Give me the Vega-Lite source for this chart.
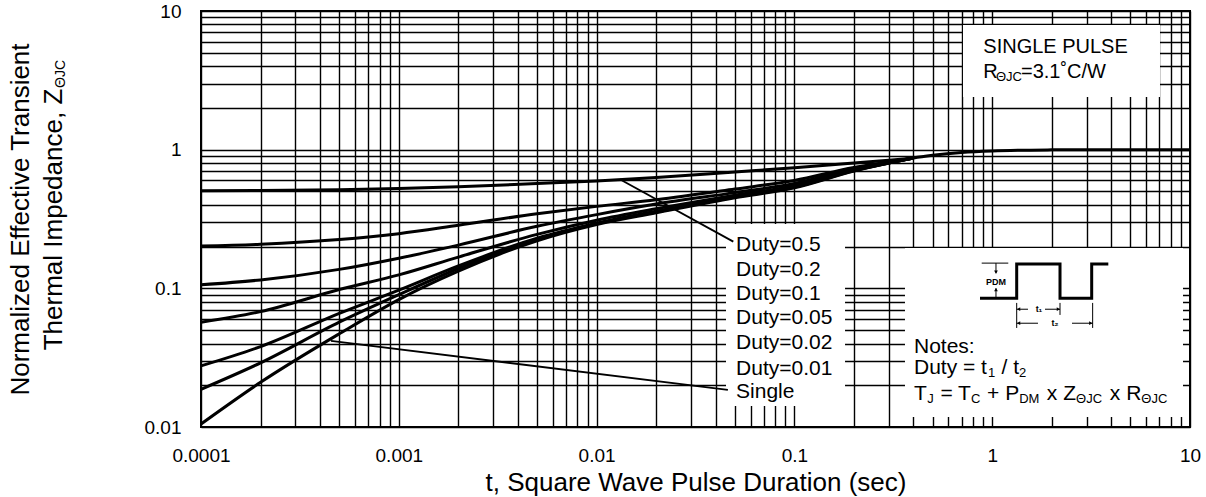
{
  "$schema": "https://vega.github.io/schema/vega-lite/v6.json",
  "width": 989,
  "height": 416,
  "autosize": {"type": "none"},
  "padding": {"left": 201, "top": 11, "right": 16, "bottom": 70},
  "background": "white",
  "config": {
    "font": "Liberation Sans",
    "view": {"stroke": "#000", "strokeWidth": 2},
    "axis": {"grid": true, "gridColor": "#000", "gridOpacity": 1, "gridWidth": 1.4, "ticks": false, "tickSize": 0, "domain": false, "labelFontSize": 19, "labelColor": "#000", "labelFont": "Liberation Sans", "titleFont": "Liberation Sans", "titleFontWeight": "normal", "titleColor": "#000", "labelOverlap": false, "labelFlush": false, "labelBound": false},
    "text": {"font": "Liberation Sans", "color": "#000"}
  },
  "datasets": {
    "curves": [
      {"series": "D0.5", "t": 0.0001, "z": 0.505}, {"series": "D0.5", "t": 0.0002, "z": 0.508}, {"series": "D0.5", "t": 0.0005, "z": 0.515}, {"series": "D0.5", "t": 0.001, "z": 0.525}, {"series": "D0.5", "t": 0.002, "z": 0.54}, {"series": "D0.5", "t": 0.005, "z": 0.57}, {"series": "D0.5", "t": 0.01, "z": 0.595}, {"series": "D0.5", "t": 0.02, "z": 0.63}, {"series": "D0.5", "t": 0.05, "z": 0.69}, {"series": "D0.5", "t": 0.1, "z": 0.74}, {"series": "D0.5", "t": 0.2, "z": 0.80}, {"series": "D0.5", "t": 0.3, "z": 0.84}, {"series": "D0.5", "t": 0.4, "z": 0.87},
      {"series": "D0.2", "t": 0.0001, "z": 0.202}, {"series": "D0.2", "t": 0.0002, "z": 0.208}, {"series": "D0.2", "t": 0.0005, "z": 0.225}, {"series": "D0.2", "t": 0.001, "z": 0.248}, {"series": "D0.2", "t": 0.002, "z": 0.285}, {"series": "D0.2", "t": 0.005, "z": 0.345}, {"series": "D0.2", "t": 0.01, "z": 0.39}, {"series": "D0.2", "t": 0.02, "z": 0.435}, {"series": "D0.2", "t": 0.05, "z": 0.52}, {"series": "D0.2", "t": 0.1, "z": 0.60}, {"series": "D0.2", "t": 0.2, "z": 0.745}, {"series": "D0.2", "t": 0.3, "z": 0.815}, {"series": "D0.2", "t": 0.4, "z": 0.87},
      {"series": "D0.1", "t": 0.0001, "z": 0.106}, {"series": "D0.1", "t": 0.0002, "z": 0.115}, {"series": "D0.1", "t": 0.0005, "z": 0.137}, {"series": "D0.1", "t": 0.001, "z": 0.165}, {"series": "D0.1", "t": 0.002, "z": 0.205}, {"series": "D0.1", "t": 0.005, "z": 0.28}, {"series": "D0.1", "t": 0.01, "z": 0.34}, {"series": "D0.1", "t": 0.02, "z": 0.405}, {"series": "D0.1", "t": 0.05, "z": 0.49}, {"series": "D0.1", "t": 0.1, "z": 0.57}, {"series": "D0.1", "t": 0.2, "z": 0.73}, {"series": "D0.1", "t": 0.3, "z": 0.81}, {"series": "D0.1", "t": 0.4, "z": 0.87},
      {"series": "D0.05", "t": 0.0001, "z": 0.057}, {"series": "D0.05", "t": 0.0002, "z": 0.068}, {"series": "D0.05", "t": 0.0005, "z": 0.098}, {"series": "D0.05", "t": 0.001, "z": 0.125}, {"series": "D0.05", "t": 0.002, "z": 0.168}, {"series": "D0.05", "t": 0.005, "z": 0.245}, {"series": "D0.05", "t": 0.01, "z": 0.31}, {"series": "D0.05", "t": 0.02, "z": 0.375}, {"series": "D0.05", "t": 0.05, "z": 0.47}, {"series": "D0.05", "t": 0.1, "z": 0.55}, {"series": "D0.05", "t": 0.2, "z": 0.72}, {"series": "D0.05", "t": 0.3, "z": 0.805}, {"series": "D0.05", "t": 0.4, "z": 0.87},
      {"series": "D0.02", "t": 0.0001, "z": 0.0276}, {"series": "D0.02", "t": 0.0002, "z": 0.038}, {"series": "D0.02", "t": 0.0005, "z": 0.066}, {"series": "D0.02", "t": 0.001, "z": 0.097}, {"series": "D0.02", "t": 0.002, "z": 0.145}, {"series": "D0.02", "t": 0.005, "z": 0.23}, {"series": "D0.02", "t": 0.01, "z": 0.295}, {"series": "D0.02", "t": 0.02, "z": 0.36}, {"series": "D0.02", "t": 0.05, "z": 0.46}, {"series": "D0.02", "t": 0.1, "z": 0.54}, {"series": "D0.02", "t": 0.2, "z": 0.71}, {"series": "D0.02", "t": 0.3, "z": 0.80}, {"series": "D0.02", "t": 0.4, "z": 0.87},
      {"series": "D0.01", "t": 0.0001, "z": 0.0187}, {"series": "D0.01", "t": 0.0002, "z": 0.029}, {"series": "D0.01", "t": 0.0005, "z": 0.057}, {"series": "D0.01", "t": 0.001, "z": 0.09}, {"series": "D0.01", "t": 0.002, "z": 0.139}, {"series": "D0.01", "t": 0.005, "z": 0.225}, {"series": "D0.01", "t": 0.01, "z": 0.292}, {"series": "D0.01", "t": 0.02, "z": 0.355}, {"series": "D0.01", "t": 0.05, "z": 0.455}, {"series": "D0.01", "t": 0.1, "z": 0.535}, {"series": "D0.01", "t": 0.2, "z": 0.705}, {"series": "D0.01", "t": 0.3, "z": 0.80}, {"series": "D0.01", "t": 0.4, "z": 0.87},
      {"series": "Single", "t": 0.0001, "z": 0.0105}, {"series": "Single", "t": 0.0002, "z": 0.021}, {"series": "Single", "t": 0.0005, "z": 0.047}, {"series": "Single", "t": 0.001, "z": 0.083}, {"series": "Single", "t": 0.002, "z": 0.133}, {"series": "Single", "t": 0.005, "z": 0.22}, {"series": "Single", "t": 0.01, "z": 0.288}, {"series": "Single", "t": 0.02, "z": 0.35}, {"series": "Single", "t": 0.05, "z": 0.45}, {"series": "Single", "t": 0.1, "z": 0.53}, {"series": "Single", "t": 0.2, "z": 0.70}, {"series": "Single", "t": 0.3, "z": 0.80}, {"series": "Single", "t": 0.4, "z": 0.87}, {"series": "Single", "t": 0.5, "z": 0.91}, {"series": "Single", "t": 0.7, "z": 0.955}, {"series": "Single", "t": 1, "z": 0.98}, {"series": "Single", "t": 2, "z": 0.997}, {"series": "Single", "t": 3, "z": 1.0}, {"series": "Single", "t": 5, "z": 1.0}, {"series": "Single", "t": 10, "z": 1.0}
    ],
    "boxes": [
      {"t": 0.0451, "t2": 0.1803, "z": 0.01419, "z2": 0.2912},
      {"t": 0.3623, "t2": 9.218, "z": 0.01183, "z2": 0.1956},
      {"t": 0.7117, "t2": 7.052, "z": 2.399, "z2": 7.925}
    ],
    "leaders": [
      {"t": 0.0131, "t2": 0.0491, "z": 0.611, "z2": 0.2173},
      {"t": 0.000454, "t2": 0.0461, "z": 0.0418, "z2": 0.0185}
    ],
    "diagramRules": [
      {"t": 0.8849, "t2": 1.206, "z": 0.152, "z2": 0.152},
      {"t": 1.045, "t2": 1.045, "z": 0.152, "z2": 0.1285},
      {"t": 1.045, "t2": 1.045, "z": 0.1002, "z2": 0.0848},
      {"t": 1.33, "t2": 1.33, "z": 0.0785, "z2": 0.0518},
      {"t": 2.202, "t2": 2.202, "z": 0.0785, "z2": 0.0643},
      {"t": 3.22, "t2": 3.22, "z": 0.0785, "z2": 0.0518},
      {"t": 1.33, "t2": 1.517, "z": 0.07068, "z2": 0.07068},
      {"t": 1.849, "t2": 2.202, "z": 0.07068, "z2": 0.07068},
      {"t": 1.33, "t2": 1.704, "z": 0.05602, "z2": 0.05602},
      {"t": 2.532, "t2": 3.22, "z": 0.05602, "z2": 0.05602}
    ],
    "pulse": [
      {"i": 1, "t": 0.8676, "z": 0.0848}, {"i": 2, "t": 1.33, "z": 0.0848}, {"i": 3, "t": 1.33, "z": 0.15}, {"i": 4, "t": 2.202, "z": 0.15},
      {"i": 5, "t": 2.202, "z": 0.0848}, {"i": 6, "t": 3.184, "z": 0.0848}, {"i": 7, "t": 3.184, "z": 0.15}, {"i": 8, "t": 3.864, "z": 0.15}
    ],
    "arrowheads": [
      {"t": 1.045, "z": 0.131, "dir": "triangle-down"},
      {"t": 1.045, "z": 0.098, "dir": "triangle-up"},
      {"t": 1.36, "z": 0.07068, "dir": "triangle-left"},
      {"t": 2.16, "z": 0.07068, "dir": "triangle-right"},
      {"t": 1.36, "z": 0.05602, "dir": "triangle-left"},
      {"t": 3.15, "z": 0.05602, "dir": "triangle-right"}
    ],
    "mainText": [
      {"t": 0.0507, "z": 0.2056, "text": "Duty=0.5"},
      {"t": 0.0507, "z": 0.1357, "text": "Duty=0.2"},
      {"t": 0.0507, "z": 0.0911, "text": "Duty=0.1"},
      {"t": 0.0507, "z": 0.0609, "text": "Duty=0.05"},
      {"t": 0.0507, "z": 0.0402, "text": "Duty=0.02"},
      {"t": 0.0507, "z": 0.0261, "text": "Duty=0.01"},
      {"t": 0.0507, "z": 0.018, "text": "Single"},
      {"t": 0.4024, "z": 0.03798, "text": "Notes:"},
      {"t": 0.4024, "z": 0.02667, "text": "Duty = t"},
      {"t": 1.114, "z": 0.02667, "text": "/ t"},
      {"t": 0.4024, "z": 0.01732, "text": "T"},
      {"t": 0.5471, "z": 0.01732, "text": "= T"},
      {"t": 0.9424, "z": 0.01732, "text": "+ P"},
      {"t": 1.888, "z": 0.01732, "text": "x Z"},
      {"t": 3.932, "z": 0.01732, "text": "x R"}
    ],
    "boxText": [
      {"t": 0.9016, "z": 5.528, "text": "SINGLE PULSE"},
      {"t": 0.9016, "z": 3.651, "text": "R"},
      {"t": 1.398, "z": 3.651, "text": "=3.1˚C/W"}
    ],
    "subText": [
      {"t": 1.045, "z": 3.651, "text": "ΘJC"},
      {"t": 0.9524, "z": 0.02667, "text": "1"},
      {"t": 1.366, "z": 0.02667, "text": "2"},
      {"t": 0.4697, "z": 0.01732, "text": "J"},
      {"t": 0.7823, "z": 0.01732, "text": "C"},
      {"t": 1.369, "z": 0.01732, "text": "DM"},
      {"t": 2.653, "z": 0.01732, "text": "ΘJC"},
      {"t": 5.673, "z": 0.01732, "text": "ΘJC"}
    ],
    "tinyText": [
      {"t": 1.045, "z": 0.1117, "text": "PDM"},
      {"t": 1.724, "z": 0.07068, "text": "t₁"},
      {"t": 2.077, "z": 0.05602, "text": "t₂"}
    ],
    "titleSub": [
      {"t": 0.0000196, "z": 3.514, "text": "ΘJC"}
    ]
  },
  "layer": [
    {
      "data": {"name": "curves"},
      "mark": {"type": "line", "color": "#000", "strokeWidth": 3, "interpolate": "monotone"},
      "encoding": {
        "x": {"field": "t", "type": "quantitative",
          "scale": {"type": "log", "domain": [0.0001, 10], "nice": false},
          "axis": {"title": "t, Square Wave Pulse Duration (sec)",
            "values": [0.0001,0.0002,0.0003,0.0004,0.0005,0.0006,0.0007,0.0008,0.0009,0.001,0.002,0.003,0.004,0.005,0.006,0.007,0.008,0.009,0.01,0.02,0.03,0.04,0.05,0.06,0.07,0.08,0.09,0.1,0.2,0.3,0.4,0.5,0.6,0.7,0.8,0.9,1,2,3,4,5,6,7,8,9,10],
            "format": "~g",
            "labelExpr": "indexof([0.0001,0.001,0.01,0.1,1,10], datum.value) >= 0 ? datum.label : ''",
            "labelPadding": 19, "titleFontSize": 26, "titlePadding": 4}},
        "y": {"field": "z", "type": "quantitative",
          "scale": {"type": "log", "domain": [0.01, 10], "nice": false},
          "axis": {"title": ["Normalized Effective Transient", "Thermal Impedance, Z"],
            "values": [0.01,0.02,0.03,0.04,0.05,0.06,0.07,0.08,0.09,0.1,0.2,0.3,0.4,0.5,0.6,0.7,0.8,0.9,1,2,3,4,5,6,7,8,9,10],
            "format": "~g",
            "labelExpr": "indexof([0.01,0.1,1,10], datum.value) >= 0 ? datum.label : ''",
            "labelPadding": 20, "titleFontSize": 26, "titlePadding": 78, "titleLineHeight": 33}},
        "detail": {"field": "series"}
      }
    },
    {
      "data": {"name": "boxes"},
      "mark": {"type": "rect", "fill": "#fff", "stroke": null},
      "encoding": {
        "x": {"field": "t", "type": "quantitative"},
        "x2": {"field": "t2"},
        "y": {"field": "z", "type": "quantitative"},
        "y2": {"field": "z2"}
      }
    },
    {
      "data": {"name": "leaders"},
      "mark": {"type": "rule", "color": "#000", "strokeWidth": 1.8},
      "encoding": {
        "x": {"field": "t", "type": "quantitative"},
        "x2": {"field": "t2"},
        "y": {"field": "z", "type": "quantitative"},
        "y2": {"field": "z2"}
      }
    },
    {
      "data": {"name": "diagramRules"},
      "mark": {"type": "rule", "color": "#000", "strokeWidth": 1},
      "encoding": {
        "x": {"field": "t", "type": "quantitative"},
        "x2": {"field": "t2"},
        "y": {"field": "z", "type": "quantitative"},
        "y2": {"field": "z2"}
      }
    },
    {
      "data": {"name": "pulse"},
      "mark": {"type": "line", "color": "#000", "strokeWidth": 3, "interpolate": "linear"},
      "encoding": {
        "x": {"field": "t", "type": "quantitative"},
        "y": {"field": "z", "type": "quantitative"},
        "order": {"field": "i", "type": "quantitative"}
      }
    },
    {
      "data": {"name": "arrowheads"},
      "mark": {"type": "point", "filled": true, "color": "#000", "size": 14, "opacity": 1},
      "encoding": {
        "x": {"field": "t", "type": "quantitative"},
        "y": {"field": "z", "type": "quantitative"},
        "shape": {"field": "dir", "type": "nominal", "scale": null}
      }
    },
    {
      "data": {"name": "mainText"},
      "mark": {"type": "text", "align": "left", "baseline": "middle", "fontSize": 21, "color": "#000"},
      "encoding": {
        "x": {"field": "t", "type": "quantitative"},
        "y": {"field": "z", "type": "quantitative"},
        "text": {"field": "text"}
      }
    },
    {
      "data": {"name": "boxText"},
      "mark": {"type": "text", "align": "left", "baseline": "middle", "fontSize": 20, "color": "#000"},
      "encoding": {
        "x": {"field": "t", "type": "quantitative"},
        "y": {"field": "z", "type": "quantitative"},
        "text": {"field": "text"}
      }
    },
    {
      "data": {"name": "subText"},
      "mark": {"type": "text", "align": "left", "baseline": "middle", "fontSize": 13, "dy": 5, "color": "#000"},
      "encoding": {
        "x": {"field": "t", "type": "quantitative"},
        "y": {"field": "z", "type": "quantitative"},
        "text": {"field": "text"}
      }
    },
    {
      "data": {"name": "tinyText"},
      "mark": {"type": "text", "align": "center", "baseline": "middle", "fontSize": 9, "fontWeight": "bold", "color": "#000"},
      "encoding": {
        "x": {"field": "t", "type": "quantitative"},
        "y": {"field": "z", "type": "quantitative"},
        "text": {"field": "text"}
      }
    },
    {
      "data": {"name": "titleSub"},
      "mark": {"type": "text", "align": "center", "baseline": "middle", "fontSize": 14, "angle": 270, "color": "#000", "clip": false},
      "encoding": {
        "x": {"field": "t", "type": "quantitative"},
        "y": {"field": "z", "type": "quantitative"},
        "text": {"field": "text"}
      }
    }
  ]
}
